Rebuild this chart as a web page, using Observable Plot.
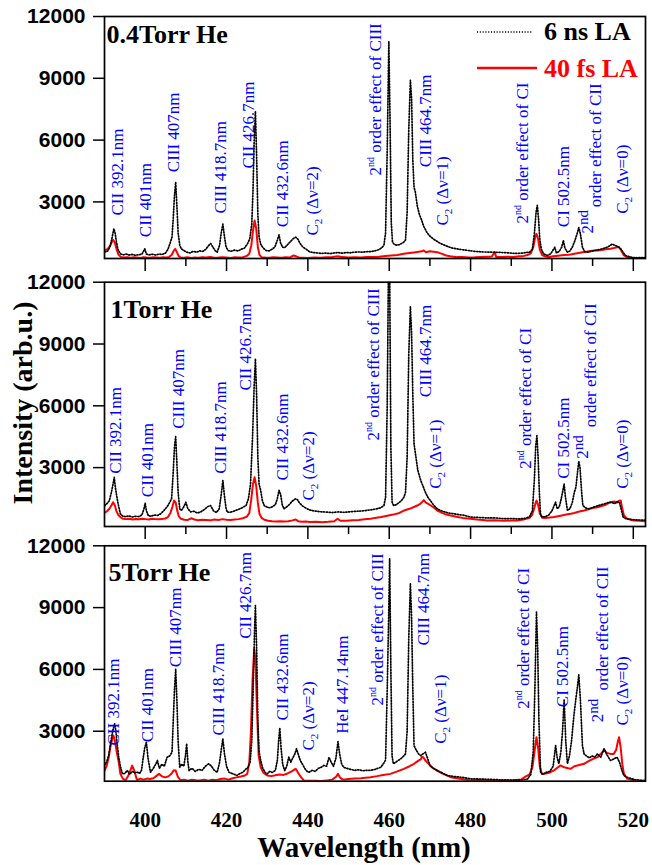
<!DOCTYPE html>
<html>
<head>
<meta charset="utf-8">
<script src="https://cdn.jsdelivr.net/npm/d3@7"></script>
<script src="https://cdn.jsdelivr.net/npm/@observablehq/plot@0.6"></script>
<style>
html,body{margin:0;padding:0;background:#fff;overflow:hidden;}
#wrap{position:relative;width:652px;height:865px;}
#wrap svg.plotpanel{position:absolute;left:0;}
.serif{font-family:'Liberation Serif','Times New Roman',Times,serif;font-weight:bold;}
</style>
</head>
<body>
<div id="wrap"></div>
<script>
// ---------------- data (wavelength nm, intensity arb.u.) ----------------
const xTicksMajor = [400, 420, 440, 460, 480, 500, 520];
const xTicksMinor = [410, 430, 450, 470, 490, 510];
const yTicks = [3000, 6000, 9000, 12000];
const panelTitles = ["0.4Torr He", "1Torr He", "5Torr He"];
const seriesNames = ["6 ns LA", "40 fs LA"];

const p1_ns = [[390.0,560],[390.8,620],[391.4,850],[391.9,1300],[392.3,1700],[392.6,1500],[392.9,1100],[393.3,700],[393.9,480],[394.6,430],[395.3,470],[396.0,420],[396.8,450],[397.6,410],[398.4,440],[399.2,460],[399.9,724],[400.3,470],[401.0,430],[401.8,460],[402.6,420],[403.4,470],[404.2,450],[405.0,520],[405.6,700],[406.1,980],[406.6,1300],[406.9,2200],[407.2,3300],[407.5,3950],[407.8,2800],[408.1,1500],[408.5,900],[408.9,720],[409.5,640],[410.2,560],[411.0,520],[411.8,600],[412.6,560],[413.4,620],[414.2,600],[414.9,700],[415.6,880],[416.1,980],[416.6,820],[417.2,640],[417.7,560],[418.3,900],[418.7,1500],[419.1,1920],[419.5,1300],[419.9,800],[420.4,640],[421.2,610],[422.0,660],[422.8,620],[423.6,700],[424.4,760],[425.1,950],[425.7,1200],[426.2,1900],[426.5,3500],[426.8,6000],[427.1,7400],[427.4,5200],[427.7,2400],[428.0,1300],[428.4,950],[429.0,760],[429.7,640],[430.4,620],[431.2,700],[431.9,820],[432.5,1150],[432.9,1400],[433.3,1000],[433.8,800],[434.3,780],[434.9,900],[435.6,1050],[436.3,1200],[437.0,1290],[437.5,1200],[438.1,980],[438.8,800],[439.6,700],[440.4,580],[441.4,540],[442.4,520],[443.4,500],[444.4,520],[445.4,490],[446.4,520],[447.4,540],[448.4,510],[449.4,540],[450.4,530],[451.4,560],[452.4,570],[453.4,560],[454.4,580],[455.4,590],[456.4,620],[457.4,680],[458.2,780],[458.7,900],[459.1,1500],[459.5,5500],[459.9,10800],[460.2,7000],[460.5,2000],[460.8,1050],[461.2,950],[461.8,900],[462.4,920],[463.0,980],[463.6,1050],[464.0,1150],[464.4,2500],[464.8,6500],[465.2,8900],[465.5,8000],[465.8,5000],[466.1,3700],[466.4,3500],[466.9,2800],[467.4,2400],[467.9,2150],[468.5,1800],[469.3,1500],[470.2,1300],[471.0,1180],[472.0,1050],[473.0,950],[474.3,840],[475.5,760],[476.7,720],[478.0,680],[479.5,640],[481.0,600],[483.0,570],[485.0,560],[487.0,550],[489.0,530],[491.0,500],[492.5,510],[493.5,540],[494.5,560],[495.2,700],[495.7,1500],[496.1,2500],[496.4,2830],[496.7,2200],[497.0,1200],[497.4,700],[497.9,480],[498.9,400],[499.7,480],[500.7,800],[501.1,520],[501.8,600],[502.4,800],[502.8,1130],[503.2,750],[503.8,560],[504.4,620],[505.0,800],[505.6,1100],[506.1,1400],[506.6,1750],[507.0,1450],[507.5,800],[508.0,600],[508.8,560],[509.6,600],[510.5,640],[511.5,680],[512.5,730],[513.6,800],[514.3,880],[514.8,960],[515.3,900],[515.9,860],[516.5,800],[517.0,700],[517.6,520],[518.1,400],[519.0,340],[520.0,300],[521.0,290],[522.0,300],[523.0,290]];

const p1_fs = [[390.0,640],[390.7,700],[391.3,850],[391.8,1050],[392.1,1160],[392.5,1050],[392.9,750],[393.4,450],[394.0,330],[394.8,300],[395.6,320],[396.4,290],[397.2,310],[398.0,300],[398.8,280],[399.6,320],[400.4,300],[401.2,290],[402.0,310],[402.8,300],[403.6,290],[404.4,310],[405.2,300],[405.9,330],[406.5,420],[407.0,620],[407.4,720],[407.8,560],[408.2,380],[408.7,300],[409.5,290],[410.4,310],[411.3,280],[412.2,300],[413.1,290],[414.0,320],[415.0,300],[416.0,330],[417.0,290],[418.0,300],[419.0,320],[420.0,300],[421.0,280],[422.0,310],[423.0,300],[424.0,320],[425.0,380],[425.6,480],[426.1,900],[426.5,1600],[426.9,2100],[427.3,1700],[427.7,800],[428.1,430],[428.6,320],[429.5,300],[430.5,290],[431.5,310],[432.5,300],[433.5,290],[434.5,310],[435.5,300],[436.5,400],[437.1,360],[437.8,300],[438.8,290],[440.0,280],[441.5,300],[443.0,290],[444.5,310],[446.0,330],[447.4,360],[448.5,320],[450.0,300],[451.5,310],[453.0,300],[454.5,320],[456.0,330],[457.5,340],[459.0,370],[460.5,400],[462.0,420],[463.6,480],[465.0,520],[466.5,560],[468.0,600],[468.5,640],[469.0,560],[470.0,600],[471.8,560],[473.0,480],[474.0,400],[475.0,360],[476.7,320],[478.0,330],[479.5,300],[481.0,310],[482.5,330],[484.0,340],[485.2,350],[485.9,560],[486.3,330],[487.5,320],[489.0,340],[490.5,330],[492.0,360],[493.1,380],[494.0,420],[494.8,500],[495.4,800],[495.9,1300],[496.2,1450],[496.6,1200],[497.0,700],[497.6,420],[498.4,350],[499.3,330],[500.2,360],[501.0,380],[502.0,400],[503.0,420],[504.0,430],[504.6,447],[505.5,480],[506.5,520],[507.5,560],[508.5,580],[509.5,620],[510.5,640],[511.2,642],[512.2,660],[513.2,700],[514.4,724],[515.2,760],[516.0,800],[516.5,800],[517.0,650],[517.7,400],[518.5,320],[519.5,290],[520.5,280],[521.5,270],[523.0,270]];

const p2_ns = [[390.0,1150],[390.6,1250],[391.2,1400],[391.7,1800],[392.1,2200],[392.4,2530],[392.7,2000],[393.1,1500],[393.5,1100],[393.9,760],[394.5,640],[395.2,620],[396.0,660],[396.8,600],[397.6,640],[398.4,620],[399.2,700],[399.7,1000],[400.0,1270],[400.3,900],[400.8,660],[401.5,640],[402.2,700],[403.0,680],[403.8,760],[404.6,920],[405.4,1100],[406.0,1300],[406.5,1500],[406.9,2800],[407.2,4000],[407.5,4500],[407.8,3200],[408.1,1800],[408.5,1000],[408.9,920],[409.5,1100],[410.0,1320],[410.5,1000],[411.2,850],[412.0,880],[412.8,800],[413.6,840],[414.5,960],[415.3,1100],[416.1,1160],[416.8,900],[417.5,820],[418.2,1000],[418.7,1700],[419.1,2370],[419.5,1600],[419.9,1000],[420.2,840],[420.9,830],[421.7,880],[422.5,940],[423.3,1000],[424.1,1080],[424.8,1160],[425.4,1500],[425.9,2200],[426.4,4500],[426.8,7000],[427.1,8280],[427.4,6500],[427.7,3500],[428.0,2200],[428.4,1890],[428.8,1400],[429.3,1150],[430.0,1080],[430.7,1050],[431.4,1120],[432.0,1200],[432.5,1500],[432.9,1900],[433.3,1700],[433.7,1200],[434.1,1000],[434.7,1080],[435.4,1200],[436.2,1380],[436.9,1480],[437.4,1450],[437.9,1300],[438.6,1150],[439.4,1050],[440.3,950],[441.5,900],[443.0,860],[444.5,840],[446.0,820],[447.5,850],[449.0,830],[450.5,860],[452.0,880],[453.5,900],[455.0,940],[456.5,980],[457.9,1050],[458.7,1160],[459.1,1560],[459.5,6000],[459.8,12500],[460.1,12500],[460.4,4000],[460.7,1320],[461.1,1160],[461.7,1200],[462.4,1300],[463.0,1400],[463.6,1560],[464.0,1800],[464.4,3500],[464.8,8500],[465.2,10800],[465.5,9500],[465.8,6500],[466.1,4150],[466.5,3600],[467.0,2900],[467.7,2400],[468.3,2100],[468.9,1800],[469.5,1560],[470.3,1350],[471.0,1160],[471.8,1000],[472.6,920],[473.5,860],[474.5,800],[475.9,760],[477.0,720],[478.5,680],[480.0,600],[482.0,580],[484.0,560],[486.0,560],[488.2,520],[490.0,530],[492.0,510],[493.5,540],[494.5,620],[495.2,900],[495.7,2500],[496.0,4000],[496.3,4550],[496.6,3500],[496.9,1800],[497.2,700],[497.6,600],[498.4,620],[499.2,700],[500.0,900],[500.9,1320],[501.3,1000],[501.8,1100],[502.3,1500],[502.7,1900],[503.0,2200],[503.3,1600],[503.8,920],[504.4,1000],[505.0,1300],[505.5,1800],[505.9,2050],[506.3,2800],[506.6,3300],[506.9,3000],[507.3,1800],[507.6,1160],[508.2,1050],[509.0,1000],[509.8,1050],[510.8,1120],[511.8,1180],[512.8,1240],[513.8,1300],[514.6,1320],[515.4,1250],[516.0,1350],[516.6,1300],[517.0,1000],[517.5,600],[518.2,520],[519.5,480],[521.0,460],[523.0,450]];

const p2_fs = [[390.0,800],[390.6,880],[391.2,1000],[391.8,1200],[392.1,1320],[392.5,1200],[392.9,900],[393.4,700],[393.9,600],[394.5,520],[395.3,500],[396.1,520],[396.9,480],[397.7,510],[398.5,490],[399.3,520],[400.1,500],[400.9,480],[401.7,520],[402.5,500],[403.3,490],[404.1,510],[404.9,530],[405.6,600],[406.2,800],[406.7,1100],[407.1,1400],[407.5,1300],[407.9,900],[408.3,620],[408.8,520],[409.6,470],[410.5,460],[411.3,540],[412.1,480],[413.0,450],[414.0,470],[415.0,460],[416.0,440],[417.0,480],[418.0,460],[419.0,500],[420.0,470],[421.0,460],[422.0,480],[423.0,500],[424.0,540],[425.0,620],[425.6,800],[426.1,1500],[426.5,2200],[426.9,2530],[427.3,2100],[427.7,1300],[428.1,760],[428.6,560],[429.3,470],[430.2,420],[431.2,400],[432.2,390],[433.2,400],[434.2,380],[435.2,400],[436.2,440],[437.0,480],[437.6,400],[438.5,370],[439.5,380],[440.5,360],[442.0,370],[443.5,350],[445.0,370],[446.5,400],[447.3,520],[448.0,420],[449.5,420],[451.0,440],[452.5,460],[454.0,490],[455.4,515],[456.5,560],[458.0,600],[459.5,660],[461.0,720],[462.5,800],[463.6,918],[465.0,1000],[466.2,1100],[466.9,1160],[467.7,1250],[468.5,1420],[469.0,1300],[469.5,1250],[470.2,1160],[471.0,1050],[471.8,918],[473.0,800],[474.0,720],[475.1,676],[476.5,620],[478.0,560],[480.0,515],[481.5,480],[483.0,460],[484.1,433],[486.0,440],[488.0,420],[490.0,430],[491.5,433],[493.0,480],[494.5,560],[495.1,700],[495.6,1000],[496.0,1300],[496.2,1400],[496.6,1200],[497.0,800],[497.6,564],[498.5,560],[499.5,580],[500.5,600],[501.5,640],[502.5,680],[503.5,720],[504.6,758],[505.5,800],[506.5,860],[507.9,918],[509.0,980],[510.0,1040],[511.2,1079],[512.2,1140],[513.2,1200],[514.4,1320],[515.3,1360],[516.0,1300],[516.4,1380],[516.9,1403],[517.3,1000],[517.7,676],[518.5,520],[520.2,433],[521.5,420],[523.0,400]];

const p3_ns = [[390.0,1340],[390.5,1500],[391.0,1800],[391.5,2400],[392.0,3000],[392.5,3360],[392.8,3000],[393.1,2400],[393.5,1740],[393.9,1300],[394.4,930],[395.0,950],[395.6,1100],[396.2,900],[396.8,1050],[397.4,980],[398.0,1020],[398.6,950],[399.1,1100],[399.5,1700],[399.9,2200],[400.3,2460],[400.7,1700],[401.3,1010],[402.0,1200],[402.6,1400],[403.0,1580],[403.5,1200],[404.1,1400],[404.7,1300],[405.4,1740],[406.0,1800],[406.6,1980],[406.9,3500],[407.2,5000],[407.5,6000],[407.8,4500],[408.1,2500],[408.5,1250],[409.0,1400],[409.5,1300],[409.9,1800],[410.2,2390],[410.5,1500],[410.8,1090],[411.5,1200],[412.3,1050],[413.2,1150],[414.0,1100],[414.8,1300],[415.6,1420],[416.3,1300],[417.0,1100],[417.7,1000],[418.3,1500],[418.7,2100],[419.1,2630],[419.5,1900],[420.0,1300],[420.6,1010],[421.3,950],[422.0,900],[422.6,850],[423.3,950],[424.0,1000],[424.7,1150],[425.3,1250],[425.8,1500],[426.2,2500],[426.6,5500],[426.9,8000],[427.1,9100],[427.4,7000],[427.7,3500],[428.0,2000],[428.4,1580],[428.9,1200],[429.5,1000],[430.0,930],[430.6,1050],[431.3,1000],[432.0,1100],[432.5,1600],[432.8,2500],[433.1,3150],[433.4,2200],[433.8,1400],[434.3,1090],[434.8,1300],[435.3,1740],[435.8,1500],[436.3,1700],[436.8,1900],[437.2,2150],[437.6,1900],[438.1,1600],[438.6,1420],[439.2,1200],[439.8,1050],[440.3,1010],[441.0,1100],[441.8,1050],[442.6,1200],[443.3,1250],[443.9,1340],[444.6,1300],[445.2,1740],[445.7,1500],[446.3,1300],[446.9,1700],[447.4,2500],[447.8,1900],[448.3,1400],[448.8,1250],[449.5,1200],[450.5,1150],[451.5,1100],[452.5,1130],[453.5,1080],[454.5,1100],[455.4,1100],[456.5,1150],[457.9,1250],[458.5,1400],[459.1,1600],[459.5,5000],[459.9,9000],[460.1,11370],[460.4,6000],[460.7,1800],[461.0,1420],[461.5,1480],[462.0,1550],[462.8,1660],[463.6,1800],[464.0,1900],[464.4,3000],[464.8,7500],[465.2,10150],[465.5,8500],[465.8,5000],[466.1,2300],[466.6,2100],[467.2,1900],[467.7,1820],[468.3,1900],[468.9,1980],[469.4,1700],[470.0,1340],[470.8,1200],[471.8,1090],[472.8,1000],[474.3,850],[476.0,800],[478.0,760],[480.0,690],[482.5,680],[485.0,660],[487.5,640],[490.0,630],[492.5,620],[494.0,680],[494.8,900],[495.4,2000],[495.8,5000],[496.2,8780],[496.5,7000],[496.8,3500],[497.2,1010],[497.8,900],[498.5,1000],[499.5,1050],[500.3,1300],[500.9,2300],[501.3,1700],[501.7,1420],[502.2,2000],[502.6,3000],[503.0,4550],[503.4,2500],[503.8,1420],[504.3,1800],[504.8,2500],[505.4,3760],[505.9,4600],[506.3,5200],[506.6,5750],[507.0,4500],[507.5,2300],[507.9,1900],[508.5,1800],[509.2,1700],[509.9,1800],[510.5,1740],[511.2,1900],[512.0,1740],[512.8,2150],[513.4,1900],[514.0,1700],[514.4,1580],[515.2,1650],[516.0,1740],[516.6,1500],[517.2,1100],[517.7,850],[518.5,760],[519.5,700],[520.5,650],[521.5,620],[523.0,600]];

const p3_fs = [[390.0,1090],[390.5,1300],[391.0,1700],[391.5,2300],[392.0,2700],[392.2,2790],[392.6,2500],[393.0,2000],[393.5,1500],[393.9,930],[394.5,700],[395.2,620],[396.0,900],[396.8,1330],[397.3,1100],[398.0,620],[398.8,700],[399.6,650],[400.4,700],[401.2,680],[402.0,720],[402.7,820],[403.4,930],[404.2,800],[405.0,760],[405.8,820],[406.5,950],[407.0,1100],[407.5,1090],[408.0,800],[408.7,620],[409.5,650],[410.5,600],[411.5,640],[412.5,620],[413.5,610],[414.5,650],[415.5,600],[416.5,640],[417.5,620],[418.5,680],[419.5,700],[420.5,650],[421.5,720],[422.5,760],[423.5,800],[424.5,850],[425.1,930],[425.6,1500],[426.0,3000],[426.4,5500],[426.8,7000],[427.1,6500],[427.5,4000],[427.9,1800],[428.4,1250],[429.0,1000],[430.0,850],[431.0,820],[432.0,860],[433.0,900],[434.0,880],[435.0,950],[436.0,1050],[437.0,1175],[437.7,950],[438.4,750],[439.0,610],[440.0,600],[441.0,590],[442.0,600],[443.0,580],[444.0,600],[445.0,620],[446.0,650],[447.0,800],[447.4,930],[447.9,750],[448.6,650],[450.0,680],[451.5,700],[453.0,720],[455.4,770],[457.0,820],[458.5,880],[460.3,930],[462.0,1050],[463.6,1175],[465.0,1300],[466.1,1420],[467.0,1550],[467.8,1650],[468.1,1770],[468.5,1700],[469.0,1550],[469.7,1420],[470.5,1250],[471.8,1090],[473.0,950],[475.1,770],[477.0,700],[480.0,610],[482.5,640],[485.0,600],[488.2,600],[490.5,620],[492.5,660],[493.5,800],[494.5,900],[495.2,1250],[495.7,2000],[496.2,2710],[496.6,2200],[497.0,1300],[497.5,930],[498.5,950],[499.5,1000],[500.5,1100],[501.5,1250],[502.1,1340],[503.0,1250],[504.0,1200],[504.6,1175],[505.5,1300],[506.5,1350],[507.9,1420],[509.0,1550],[510.0,1650],[511.2,1740],[512.0,1900],[512.8,2070],[513.5,1950],[514.4,1900],[515.2,1900],[515.8,2100],[516.2,2500],[516.5,2710],[516.9,2200],[517.3,1400],[517.7,930],[518.5,700],[520.2,620],[521.5,600],[523.0,600]];

// annotation labels: [text, wavelength, intensity at text start]
const p1_labels = [["CII 392.1nm",393.1,2341],["CII 401nm",400.1,1287],["CIII 407nm",407.0,4442],["CIII 418.7nm",418.5,2438],["CII 426.7nm",425.5,4622],["CII 432.6nm",433.7,1773],["C_{2} (Δν=2)",441.1,1370],["2^{nd} order effect of CIII",456.6,4282],["CIII 464.7nm",468.9,4685],["C_{2} (Δν=1)",473.0,1855],["2^{nd} order effect of CI",492.7,1952],["CI 502.5nm",502.9,1773],["2~{nd}",508.7,1467],["order effect of CII",510.7,2743],["C_{2} (Δν=0)",517.3,2423]];
const p2_labels = [["CII 392.1nm",392.7,2700],["CII 401nm",400.5,1564],["CIII 407nm",408.3,4884],["CIII 418.7nm",418.5,2700],["CII 426.7nm",424.7,6743],["CII 432.6nm",433.7,2374],["C_{2} (Δν=2)",440.2,1403],["2^{nd} order effect of CIII",456.2,4316],["CIII 464.7nm",468.9,6418],["C_{2} (Δν=1)",471.4,1972],["2^{nd} order effect of CI",493.5,2943],["CI 502.5nm",502.9,2457],["2~{nd}",507.5,3428],["order effect of CII",509.5,4962],["C_{2} (Δν=0)",517.3,1972]];
const p3_labels = [["CII 392.1nm",392.3,2307],["CII 401nm",400.5,2467],["CIII 407nm",407.5,6107],["CIII 418.7nm",418.1,2792],["CII 426.7nm",424.7,7486],["CII 432.6nm",433.7,3520],["C_{2} (Δν=2)",440.2,2064],["HeI 447.14nm",448.4,2875],["2^{nd} order effect of CIII",457.1,4248],["CIII 464.7nm",468.5,7161],["C_{2} (Δν=1)",472.6,2389],["2^{nd} order effect of CI",493.1,4088],["CI 502.5nm",502.5,4166],["2~{nd}",511.2,3438],["order effect of CII",512.4,4976],["C_{2} (Δν=0)",517.3,3277]];

// ---------------- drawing ----------------
const SERIF = "'Liberation Serif','Times New Roman',Times,serif";
const SANS = "'Liberation Sans',Arial,Helvetica,sans-serif";
const NS_COLOR = "#000000", FS_COLOR = "#ff0000", LABEL_COLOR = "#0000ff";
const NS_DASH = "1.1,1.7";
const wrap = document.getElementById("wrap");

function richify(svg) {
  const NSV = "http://www.w3.org/2000/svg";
  svg.querySelectorAll("text").forEach(t => {
    const s = t.textContent;
    if (!/[\^_~]\{/.test(s) || t.querySelector("tspan")) return;
    const parts = s.split(/([\^_~]\{[^}]*\})/).filter(p => p);
    while (t.firstChild) t.removeChild(t.firstChild);
    let shift = 0;
    for (const p of parts) {
      const m = p.match(/^([\^_~])\{([^}]*)\}$/);
      const ts = document.createElementNS(NSV, "tspan");
      let target = 0, size = null;
      if (m) {
        ts.textContent = m[2];
        if (m[1] === "^") { target = -7; size = 10; }
        else if (m[1] === "~") { target = -5; size = 15; }
        else { target = 4; size = 11; }
      } else ts.textContent = p;
      if (size) ts.setAttribute("font-size", size);
      if (target !== shift) { ts.setAttribute("dy", target - shift); shift = target; }
      t.appendChild(ts);
    }
  });
}

function panel({ns, fs, labels, title, top, height, mt, mb, ymin, titleDx, titleDy, bottom}) {
  const marks = [
    Plot.line(fs, {x: d => d[0], y: d => d[1], stroke: FS_COLOR, strokeWidth: 2, clip: true}),
    Plot.line(ns, {x: d => d[0], y: d => d[1], stroke: NS_COLOR, strokeWidth: 1.7, strokeDasharray: NS_DASH, clip: true}),
    Plot.frame({stroke: "#000", strokeWidth: 1.7}),
    Plot.axisY(yTicks, {tickSize: 11, tickPadding: 8, strokeWidth: 1.5, fontSize: 21, fontWeight: "bold", fontFamily: SANS, fill: "#000", tickFormat: d => String(d), label: null}),
    Plot.text(labels, {x: d => d[1], y: d => d[2], text: d => d[0], rotate: -90, textAnchor: "start", lineAnchor: "middle", fill: LABEL_COLOR, fontSize: 17, fontFamily: SERIF, fontWeight: "normal"}),
    Plot.text([title], {text: d => d, frameAnchor: "top-left", dx: titleDx, dy: titleDy, lineAnchor: "top", textAnchor: "start", fontSize: 26, fontWeight: "bold", fontFamily: SERIF, fill: "#000"})
  ];
  if (bottom) {
    marks.push(Plot.axisX(xTicksMajor, {tickSize: 0, tickPadding: 31, fontSize: 21, fontWeight: "bold", fontFamily: SERIF, fill: "#000", tickFormat: d => String(d), label: null}));
  } else {
    marks.push(Plot.axisX(xTicksMajor, {tickSize: 13, strokeWidth: 1.5, tickFormat: () => "", label: null}));
    marks.push(Plot.axisX(xTicksMinor, {tickSize: 8, strokeWidth: 1.5, tickFormat: () => "", label: null}));
  }
  const svg = Plot.plot({
    width: 652, height,
    marginLeft: 104, marginRight: 7, marginTop: mt, marginBottom: mb,
    x: {domain: [390, 523]},
    y: {domain: [ymin, 12000]},
    style: {background: "transparent", overflow: "visible", fontFamily: SANS},
    marks
  });
  svg.classList.add("plotpanel");
  svg.style.top = top + "px";
  svg.style.position = "absolute";
  richify(svg);
  wrap.appendChild(svg);
}

panel({ns: p1_ns, fs: p1_fs, labels: p1_labels, title: panelTitles[0], top: 0, height: 280, mt: 16, mb: 22, ymin: 253, titleDx: 2, titleDy: 8});
panel({ns: p2_ns, fs: p2_fs, labels: p2_labels, title: panelTitles[1], top: 270, height: 270, mt: 11.7, mb: 14, ymin: 142, titleDx: 6, titleDy: 17});
panel({ns: p3_ns, fs: p3_fs, labels: p3_labels, title: panelTitles[2], top: 540, height: 325, mt: 5.3, mb: 84.3, ymin: 574, titleDx: 4, titleDy: 17, bottom: true});

// legend (panel 1, upper right)
const NSV = "http://www.w3.org/2000/svg";
const leg = document.createElementNS(NSV, "svg");
leg.setAttribute("width", 652); leg.setAttribute("height", 90);
leg.style.position = "absolute"; leg.style.left = "0px"; leg.style.top = "0px"; leg.style.overflow = "visible";
const legItems = [
  {name: seriesNames[0], color: NS_COLOR, dash: NS_DASH, sw: 1.7, y: 32, x2: 533, base: 40},
  {name: seriesNames[1], color: FS_COLOR, dash: null, sw: 2.5, y: 68, x2: 537, base: 77}
];
for (const it of legItems) {
  const ln = document.createElementNS(NSV, "line");
  ln.setAttribute("x1", 477); ln.setAttribute("x2", it.x2);
  ln.setAttribute("y1", it.y); ln.setAttribute("y2", it.y);
  ln.setAttribute("stroke", it.color); ln.setAttribute("stroke-width", it.sw);
  if (it.dash) ln.setAttribute("stroke-dasharray", it.dash);
  leg.appendChild(ln);
  const tx = document.createElementNS(NSV, "text");
  tx.setAttribute("x", 544); tx.setAttribute("y", it.base);
  tx.setAttribute("fill", it.color);
  tx.setAttribute("font-family", SERIF); tx.setAttribute("font-weight", "bold"); tx.setAttribute("font-size", 26);
  tx.textContent = it.name;
  leg.appendChild(tx);
}
wrap.appendChild(leg);

// axis titles
const yt = document.createElement("div");
yt.className = "serif";
yt.textContent = "Intensity (arb.u.)";
Object.assign(yt.style, {position: "absolute", left: "23px", top: "403px", fontSize: "28px", lineHeight: "1", whiteSpace: "nowrap", transform: "translate(-50%,-50%) rotate(-90deg)"});
wrap.appendChild(yt);
const xt = document.createElement("div");
xt.className = "serif";
xt.textContent = "Wavelength (nm)";
Object.assign(xt.style, {position: "absolute", left: "364px", top: "833px", fontSize: "29px", lineHeight: "1", whiteSpace: "nowrap", transform: "translateX(-50%)"});
wrap.appendChild(xt);
</script>
</body>
</html>
